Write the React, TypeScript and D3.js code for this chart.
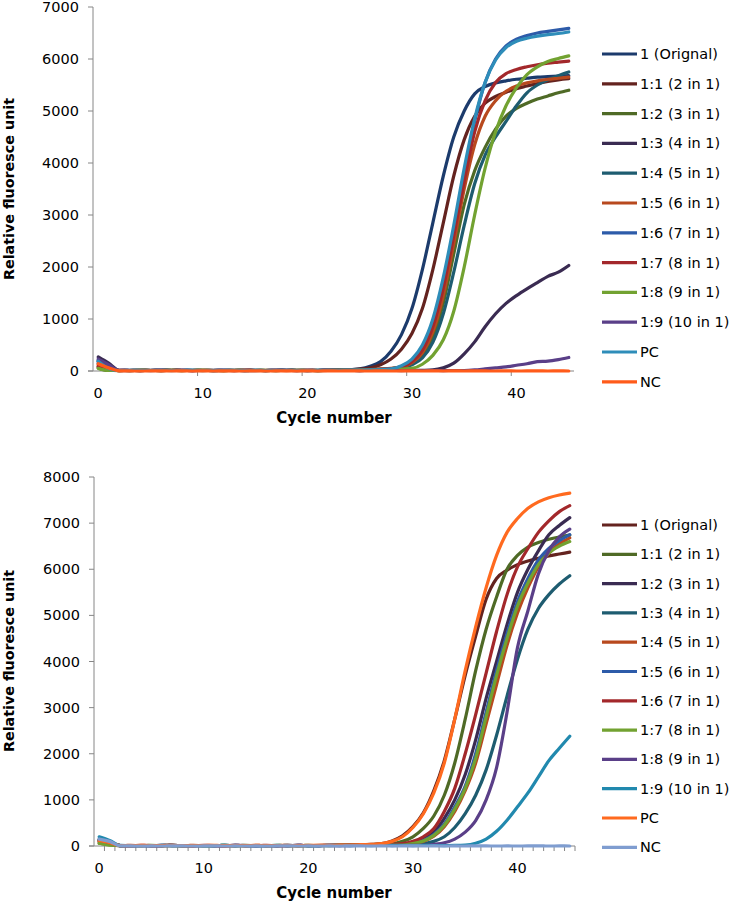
import React from 'react';
import * as d3 from 'd3';

// Categories: PCR cycle numbers 0..45
const CYCLES: number[] = d3.range(0, 46);
const X_TICK_LABELS: number[] = [0, 10, 20, 30, 40];
const TOP_Y_TICKS: number[] = [0, 1000, 2000, 3000, 4000, 5000, 6000, 7000];
const BOTTOM_Y_TICKS: number[] = [0, 1000, 2000, 3000, 4000, 5000, 6000, 7000, 8000];

const SERIES_NAMES: string[] = [
  '1 (Orignal)', '1:1 (2 in 1)', '1:2 (3 in 1)', '1:3 (4 in 1)', '1:4 (5 in 1)', '1:5 (6 in 1)',
  '1:6 (7 in 1)', '1:7 (8 in 1)', '1:8 (9 in 1)', '1:9 (10 in 1)', 'PC', 'NC',
];

const TOP_COLORS: string[] = [
  '#1C3B6C', '#64231F', '#4F6A26', '#3A2B52', '#1E5C70', '#B8491E',
  '#2D5BA9', '#A3282B', '#72A231', '#5A3F88', '#2E8DB9', '#FF5B1A',
];
const BOTTOM_COLORS: string[] = [
  '#64231F', '#4F6A26', '#3A2B52', '#1E5C70', '#B8491E', '#2D5BA9',
  '#A3282B', '#72A231', '#5A3F88', '#2189AE', '#FF6A1F', '#7F9DD0',
];

// ---------- Top chart values (cycle 0..45) ----------
const TOP_ORIGINAL = [180, 40, 8, 10, 12, 10, 9, 11, 10, 12, 10, 9, 10, 11, 10, 8, 10, 12, 10, 9, 11, 10, 12, 15, 20, 40, 90, 180, 380, 700, 1200, 1950, 2850, 3750, 4500, 5000, 5330, 5470, 5540, 5580, 5610, 5630, 5650, 5660, 5670, 5680];
const TOP_1_1 = [80, 20, 10, 9, 11, 10, 12, 10, 9, 10, 11, 10, 8, 10, 12, 10, 9, 11, 10, 12, 10, 9, 11, 15, 25, 35, 60, 120, 230, 420, 720, 1200, 1950, 2850, 3750, 4450, 4900, 5150, 5280, 5360, 5430, 5480, 5530, 5570, 5600, 5620];
const TOP_1_2 = [60, 10, 9, 10, 11, 10, 9, 12, 10, 10, 11, 9, 10, 10, 12, 10, 9, 10, 11, 10, 10, 12, 10, 12, 14, 18, 22, 30, 45, 80, 160, 300, 650, 1300, 2250, 3200, 3850, 4300, 4650, 4900, 5050, 5150, 5230, 5290, 5350, 5400];
const TOP_1_3 = [270, 150, 12, 10, 9, 10, 11, 10, 12, 9, 10, 10, 11, 9, 10, 12, 10, 9, 10, 11, 10, 9, 10, 11, 10, 9, 10, 11, 10, 12, 11, 14, 20, 60, 150, 330, 560, 850, 1100, 1300, 1450, 1580, 1700, 1820, 1900, 2030];
const TOP_1_4 = [200, 60, 10, 11, 9, 10, 12, 10, 10, 11, 9, 10, 12, 10, 9, 11, 10, 10, 12, 10, 9, 11, 12, 14, 16, 20, 25, 35, 45, 60, 120, 250, 550, 1100, 1900, 2800, 3600, 4150, 4500, 4800, 5100, 5350, 5500, 5600, 5680, 5750];
const TOP_1_5 = [120, 30, 9, 10, 12, 10, 9, 11, 10, 10, 12, 10, 9, 10, 11, 10, 12, 10, 9, 10, 11, 10, 12, 14, 18, 22, 28, 38, 50, 70, 160, 350, 750, 1450, 2450, 3500, 4350, 4900, 5200, 5380, 5480, 5540, 5580, 5610, 5630, 5650];
const TOP_1_6 = [150, 40, 10, 12, 10, 9, 11, 10, 12, 10, 10, 9, 11, 10, 12, 10, 9, 10, 11, 10, 12, 10, 11, 13, 15, 18, 22, 26, 30, 80, 200, 450, 900, 1700, 2700, 3800, 4800, 5550, 6000, 6250, 6380, 6450, 6500, 6530, 6560, 6590];
const TOP_1_7 = [90, 20, 11, 10, 9, 12, 10, 10, 11, 9, 10, 12, 10, 9, 11, 10, 10, 12, 10, 9, 11, 10, 12, 13, 16, 20, 25, 32, 45, 80, 180, 400, 850, 1600, 2600, 3650, 4600, 5200, 5550, 5720, 5800, 5850, 5890, 5920, 5940, 5960];
const TOP_1_8 = [50, 10, 10, 9, 11, 10, 10, 12, 9, 10, 11, 10, 9, 12, 10, 10, 11, 9, 10, 12, 10, 9, 11, 12, 13, 15, 18, 22, 28, 35, 50, 130, 300, 600, 1150, 2000, 3000, 3900, 4600, 5100, 5450, 5700, 5850, 5950, 6010, 6060];
const TOP_1_9 = [230, 120, 11, 9, 10, 10, 12, 10, 11, 9, 10, 10, 12, 11, 9, 10, 10, 11, 12, 10, 9, 10, 11, 10, 10, 9, 10, 11, 10, 9, 10, 10, 10, 9, 10, 10, 20, 40, 60, 80, 110, 140, 180, 190, 220, 260];
const TOP_PC = [190, 50, 10, 10, 11, 12, 10, 9, 10, 11, 10, 12, 10, 10, 9, 11, 10, 12, 10, 10, 9, 11, 12, 14, 16, 18, 22, 28, 40, 100, 230, 500, 1000, 1800, 2800, 3900, 4850, 5550, 5980, 6220, 6340, 6400, 6440, 6470, 6490, 6520];
const TOP_NC = [140, 60, 2, 1, 0, 1, 2, 0, 1, 0, 1, 0, 2, 1, 0, 1, 0, 1, 2, 0, 1, 0, 1, 0, 2, 1, 0, 1, 0, 1, 2, 0, 1, 0, 1, 0, 2, 1, 0, 1, 0, 1, 2, 0, 1, 0];

// ---------- Bottom chart values (cycle 0..45) ----------
const BOT_ORIGINAL = [120, 60, 10, 9, 11, 10, 12, 10, 9, 10, 11, 10, 10, 12, 9, 10, 11, 10, 10, 12, 10, 11, 13, 16, 20, 25, 35, 50, 110, 220, 420, 720, 1200, 1850, 2750, 3700, 4550, 5350, 5800, 5980, 6100, 6180, 6240, 6290, 6330, 6370];
const BOT_1_1 = [60, 30, 10, 10, 9, 11, 10, 12, 10, 10, 9, 11, 10, 10, 12, 10, 9, 10, 11, 10, 12, 10, 11, 13, 15, 20, 28, 38, 50, 100, 200, 380, 650, 1100, 1800, 2750, 3800, 4700, 5400, 6000, 6300, 6480, 6580, 6650, 6700, 6740];
const BOT_1_2 = [130, 80, 10, 11, 10, 9, 10, 12, 10, 11, 10, 10, 9, 12, 10, 11, 10, 10, 9, 12, 10, 11, 10, 12, 13, 15, 18, 20, 25, 30, 70, 150, 300, 600, 1000, 1550, 2300, 3200, 4000, 4800, 5500, 6000, 6400, 6750, 6950, 7120];
const BOT_1_3 = [150, 90, 9, 10, 11, 10, 10, 12, 9, 10, 11, 10, 12, 10, 9, 10, 11, 10, 12, 10, 9, 10, 11, 10, 12, 11, 12, 14, 16, 18, 20, 50, 100, 200, 400, 700, 1100, 1650, 2400, 3250, 4050, 4700, 5150, 5450, 5680, 5860];
const BOT_1_4 = [100, 50, 10, 12, 10, 11, 9, 10, 10, 12, 10, 11, 9, 10, 10, 12, 10, 11, 10, 9, 10, 12, 11, 12, 13, 14, 15, 16, 18, 20, 45, 100, 210, 420, 750, 1200, 1800, 2650, 3500, 4350, 5050, 5600, 6050, 6350, 6550, 6680];
const BOT_1_5 = [110, 55, 11, 10, 10, 9, 12, 10, 11, 10, 10, 9, 12, 10, 11, 10, 10, 9, 12, 10, 11, 10, 12, 13, 14, 15, 17, 19, 22, 25, 55, 120, 250, 480, 850, 1300, 2000, 2900, 3800, 4600, 5300, 5800, 6200, 6450, 6620, 6750];
const BOT_1_6 = [90, 40, 10, 10, 12, 10, 9, 11, 10, 10, 12, 10, 9, 10, 11, 10, 12, 10, 10, 9, 11, 10, 12, 14, 17, 20, 25, 30, 40, 50, 100, 200, 380, 750, 1250, 2000, 2850, 3750, 4650, 5450, 6050, 6450, 6800, 7050, 7250, 7380];
const BOT_1_7 = [60, 20, 10, 11, 10, 12, 10, 9, 10, 11, 10, 10, 12, 9, 10, 11, 10, 12, 10, 10, 9, 11, 10, 12, 13, 14, 15, 16, 18, 20, 50, 110, 230, 450, 800, 1250, 1900, 2800, 3700, 4500, 5200, 5700, 6100, 6350, 6500, 6600];
const BOT_1_8 = [140, 70, 10, 9, 11, 10, 10, 12, 10, 9, 11, 10, 10, 12, 10, 9, 10, 11, 10, 12, 10, 10, 11, 9, 10, 11, 12, 12, 13, 14, 14, 15, 35, 70, 150, 300, 550, 1000, 1700, 2900, 4300, 5100, 5900, 6400, 6700, 6870];
const BOT_1_9 = [200, 120, 12, 10, 11, 10, 12, 10, 9, 11, 10, 10, 12, 10, 11, 9, 10, 12, 10, 11, 10, 10, 12, 11, 10, 11, 10, 12, 10, 11, 10, 12, 11, 10, 12, 20, 60, 150, 320, 560, 850, 1150, 1500, 1850, 2120, 2380];
const BOT_PC = [120, 70, 11, 10, 12, 10, 11, 12, 10, 10, 11, 12, 10, 11, 10, 12, 10, 11, 12, 10, 12, 13, 15, 18, 22, 28, 36, 50, 100, 200, 400, 700, 1150, 1800, 2750, 3800, 4750, 5600, 6300, 6800, 7100, 7320, 7460, 7550, 7610, 7650];
const BOT_NC = [150, 100, 2, 1, 0, 1, 0, 2, 1, 0, 1, 2, 0, 1, 0, 1, 0, 1, 2, 0, 1, 0, 1, 0, 2, 1, 0, 1, 0, 1, 2, 0, 1, 0, 1, 0, 2, 1, 0, 1, 0, 1, 2, 0, 1, 0];

const TOP_SERIES = [TOP_ORIGINAL, TOP_1_1, TOP_1_2, TOP_1_3, TOP_1_4, TOP_1_5, TOP_1_6, TOP_1_7, TOP_1_8, TOP_1_9, TOP_PC, TOP_NC];
const BOT_SERIES = [BOT_ORIGINAL, BOT_1_1, BOT_1_2, BOT_1_3, BOT_1_4, BOT_1_5, BOT_1_6, BOT_1_7, BOT_1_8, BOT_1_9, BOT_PC, BOT_NC];

const FONT = 'Verdana, "DejaVu Sans", sans-serif';
const AXIS = '#868686';
const TEXT = '#000';

type ChartProps = {
  data: number[][];
  colors: string[];
  yTicks: number[];
  left: number;
  right: number;
  top: number;
  bottom: number;
  legendY: number;
  legendStep: number;
  minorTicks: boolean;
  yTitleY: number;
};

function Chart(p: ChartProps) {
  const x = d3.scaleBand<number>().domain(CYCLES).range([p.left, p.right]).paddingInner(0).paddingOuter(0);
  const cx = (c: number) => (x(c) as number) + x.bandwidth() / 2;
  const yMax = p.yTicks[p.yTicks.length - 1];
  const y = d3.scaleLinear().domain([0, yMax]).range([p.bottom, p.top]);
  const line = d3
    .line<number>()
    .x((_, i) => cx(CYCLES[i]))
    .y((d) => y(d))
    .curve(d3.curveMonotoneX);

  const xTickPositions: number[] = p.minorTicks
    ? [...CYCLES.slice(1).map((c) => x(c) as number), p.right]
    : X_TICK_LABELS.slice(1).map((c) => x(c) as number);

  return (
    <g>
      <line x1={p.left} x2={p.left} y1={p.top} y2={p.bottom} stroke={AXIS} strokeWidth={1} />
      <line x1={p.left - 5} x2={p.right} y1={p.bottom} y2={p.bottom} stroke={AXIS} strokeWidth={1} />
      {p.yTicks.map((t) => (
        <g key={'yt' + t}>
          <line x1={p.left - 5} x2={p.left} y1={y(t)} y2={y(t)} stroke={AXIS} strokeWidth={1} />
          <text x={p.left - 14} y={y(t)} textAnchor="end" dominantBaseline="central" fontFamily={FONT} fontSize={14.5} fill={TEXT}>
            {t}
          </text>
        </g>
      ))}
      {xTickPositions.map((px, i) => (
        <line key={'xt' + i} x1={px} x2={px} y1={p.bottom} y2={p.bottom + 5} stroke={AXIS} strokeWidth={1} />
      ))}
      {X_TICK_LABELS.map((c) => (
        <text key={'xl' + c} x={cx(c)} y={p.bottom + 22} textAnchor="middle" dominantBaseline="central" fontFamily={FONT} fontSize={14.5} fill={TEXT}>
          {c}
        </text>
      ))}
      <text x={334} y={p.bottom + 47} textAnchor="middle" dominantBaseline="central" fontFamily={FONT} fontSize={15} fontWeight="bold" fill={TEXT}>
        Cycle number
      </text>
      <text
        transform={`translate(9,${p.yTitleY}) rotate(-90)`}
        textAnchor="middle"
        dominantBaseline="central"
        fontFamily={FONT}
        fontSize={14.3}
        fontWeight="bold"
        fill={TEXT}
      >
        Relative fluoresce unit
      </text>
      {p.data.map((vals, i) => (
        <path
          key={'s' + i}
          d={line(vals) || ''}
          fill="none"
          stroke={p.colors[i]}
          strokeWidth={3.2}
          strokeLinejoin="round"
          strokeLinecap="round"
        />
      ))}
      {SERIES_NAMES.map((name, i) => {
        const ly = p.legendY + i * p.legendStep;
        return (
          <g key={'lg' + i}>
            <line x1={602} x2={637} y1={ly} y2={ly} stroke={p.colors[i]} strokeWidth={3.2} />
            <text x={640} y={ly} dominantBaseline="central" fontFamily={FONT} fontSize={14.5} fill={TEXT}>
              {name}
            </text>
          </g>
        );
      })}
    </g>
  );
}

export default function App() {
  return (
    <svg
      width={732}
      height={903}
      viewBox="0 0 732 903"
      style={{ position: 'absolute', left: 0, top: 0, background: '#fff' }}
    >
      <rect x={0} y={0} width={732} height={903} fill="#fff" />
      <Chart
        data={TOP_SERIES}
        colors={TOP_COLORS}
        yTicks={TOP_Y_TICKS}
        left={93}
        right={574}
        top={7}
        bottom={371}
        legendY={54}
        legendStep={29.8}
        minorTicks={false}
        yTitleY={189}
      />
      <Chart
        data={BOT_SERIES}
        colors={BOTTOM_COLORS}
        yTicks={BOTTOM_Y_TICKS}
        left={94}
        right={575}
        top={477}
        bottom={846}
        legendY={525}
        legendStep={29.3}
        minorTicks={true}
        yTitleY={661}
      />
    </svg>
  );
}
